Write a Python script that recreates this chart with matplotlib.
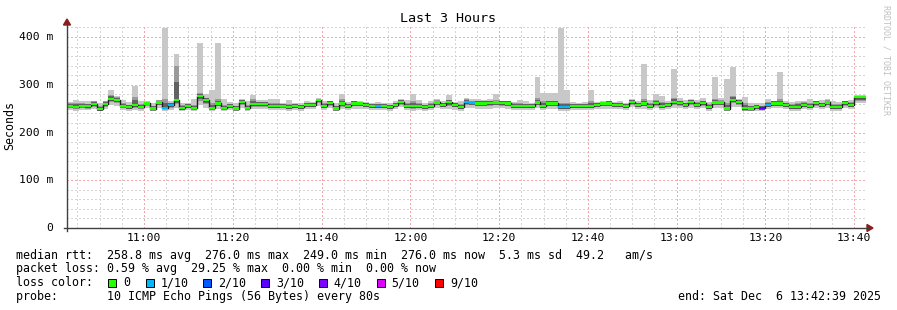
import numpy as np
import matplotlib
matplotlib.use("Agg")
import matplotlib.pyplot as plt
from matplotlib.patches import Rectangle, Polygon
from matplotlib.lines import Line2D

W, H = 897, 310

# ---------------- data (ms), one value per 80 s step, starting 10:42:39 ----------------
median = [256,254,256,255,260,249,260,270,268,256,253,258,254,261,250,263,252,258,268,251,256,252,276,268,252,261,252,
          256,250,264,252,259,259,259,256,256,256,254,256,254,258,258,268,256,262,250,261,256,261,261,258,256,256,256,
          253,258,264,256,256,256,253,256,263,258,264,258,254,264,263,261,261,262,263,262,261,256,256,256,256,263,256,
          261,261,254,254,256,256,256,256,258,261,261,258,258,256,264,258,261,256,262,256,258,264,262,258,264,258,262,
          254,263,263,250,268,264,251,250,254,251,258,261,261,258,254,254,258,256,262,258,263,254,254,262,258,274,274]
high = [264,268,266,266,262,262,264,289,276,268,264,297,266,265,262,268,418,266,365,262,262,270,388,280,290,388,270,
        264,262,270,266,278,268,268,270,270,262,268,262,262,266,264,272,266,266,262,280,264,266,266,264,262,264,262,
        262,266,270,268,280,268,262,266,270,266,278,264,266,272,270,270,268,270,280,266,266,264,268,266,262,317,282,
        282,283,418,290,264,262,264,288,264,266,266,264,266,262,270,266,343,268,280,276,266,333,272,268,270,268,272,
        264,317,272,312,337,270,275,262,262,262,270,266,327,266,264,266,266,270,266,268,270,266,264,266,268,278,278]
low = [248,246,248,247,250,244,249,258,256,248,246,248,246,251,244,252,246,248,252,245,248,244,258,252,246,250,246,
       248,244,252,246,250,250,250,248,248,248,246,248,246,250,250,256,248,252,244,250,248,250,250,250,248,248,248,
       246,250,254,248,246,248,246,248,252,250,250,248,246,252,252,250,250,250,252,252,250,248,248,248,248,252,248,
       250,250,246,246,248,248,248,248,250,250,250,250,250,248,254,250,250,248,252,248,250,252,252,250,252,250,252,
       246,252,252,244,254,254,244,244,246,246,250,252,252,250,246,246,250,248,252,250,252,246,246,252,250,262,262]
mid_high = [261,262,262,260,265,256,265,278,274,262,258,275,260,264,256,268,270,262,340,258,260,258,282,272,262,270,258,
            260,256,268,258,270,264,264,262,262,260,260,260,258,262,262,270,262,266,256,270,260,266,264,262,260,260,260,
            258,262,268,262,266,262,258,262,268,262,268,262,260,270,266,266,266,266,268,266,266,262,262,260,260,272,266,
            266,266,262,262,260,260,260,266,262,264,266,262,262,260,268,262,270,262,268,264,262,272,266,262,268,264,266,
            260,270,268,262,276,268,262,256,258,256,264,266,270,262,260,262,264,262,266,262,268,260,260,266,264,276,276]
mid_low = [252,250,252,250,254,246,254,264,262,252,249,252,250,256,246,257,249,252,260,248,251,248,266,260,248,255,248,
           251,246,258,248,254,254,254,251,251,252,249,251,249,253,253,262,251,256,246,254,251,255,255,253,251,251,251,
           249,253,258,251,250,251,249,251,257,253,256,253,249,258,257,255,255,256,257,256,255,251,251,251,251,257,251,
           255,255,249,249,251,251,251,251,253,255,255,253,253,251,258,253,255,251,256,251,253,258,256,253,258,253,256,
           249,257,257,246,262,258,246,246,249,248,253,255,255,253,249,249,253,251,256,253,257,249,249,256,253,266,266]
# loss level per step (tenths of pings lost)
loss = [0]*135
for i in (16, 17, 52, 67, 68, 83, 84, 118):
    loss[i] = 1
loss[117] = 3

loss_labels = ["0", "1/10", "2/10", "3/10", "4/10", "5/10", "9/10"]
loss_levels = [0, 1, 2, 3, 4, 5, 9]
loss_colors = ["#26ff00", "#00b8ff", "#0059ff", "#5e00ff", "#7e00ff", "#dd00ff", "#ff0000"]

x_ticks = [660, 680, 700, 720, 740, 760, 780, 800, 820]
x_tick_labels = ["11:00", "11:20", "11:40", "12:00", "12:20", "12:40", "13:00", "13:20", "13:40"]
y_ticks = [0, 100, 200, 300, 400]
y_tick_labels = ["0", "100 m", "200 m", "300 m", "400 m"]

start_min = 10 * 60 + 42 + 39 / 60.0
step_min = 80 / 60.0
end_min = start_min + 180

# ---------------- figure ----------------
fig = plt.figure(figsize=(W / 100, H / 100), dpi=100)
fig.patch.set_facecolor("white")

def fx(px):
    return px / W

def fy(py):
    return 1 - py / H

L, R, T, B = 67, 866, 25, 228
ax = fig.add_axes([fx(L), fy(B), fx(R) - fx(L), fy(T) - fy(B)])
ax.set_xlim(start_min, end_min)
ax.set_ylim(0, (B - T) / 0.4775)
for s in ax.spines.values():
    s.set_visible(False)
ax.set_xticks([])
ax.set_yticks([])

mono = "DejaVu Sans Mono"
grid_kw = dict(lw=1.0, ls=(0, (1, 2)), antialiased=False)

# grid
for v in np.arange(5 * np.ceil(start_min / 5), end_min, 5):
    if v % 20 == 0:
        continue
    ax.axvline(v, color="#d4d4d4", zorder=0, **grid_kw)
for v in range(20, 440, 20):
    if v % 100 == 0:
        continue
    ax.axhline(v, color="#d4d4d4", zorder=0, **grid_kw)
for v in x_ticks:
    ax.axvline(v, color="#f0a8a8", zorder=0.5, **grid_kw)
for v in y_ticks[1:]:
    ax.axhline(v, color="#f0a8a8", zorder=0.5, **grid_kw)

n = len(median)
edges = start_min + np.arange(n + 1) * step_min
def ext(a):
    a = np.asarray(a, float)
    return np.append(a, a[-1])

m = ext(median)
lo_, hi_ = ext(low), ext(high)
mlo, mhi = ext(mid_low), ext(mid_high)
ax.fill_between(edges, lo_, hi_, step="post", color="#c8c8c8", lw=0, zorder=1)
ax.fill_between(edges, mlo, mhi, step="post", color="#9a9a9a", lw=0, zorder=2)
ax.fill_between(edges, (mlo + m) / 2 - 1.5, (mhi + m) / 2 + 1.5, step="post", color="#626262", lw=0, zorder=3)
ax.step(edges, m, where="post", color="#202020", lw=1.0, zorder=4)
half = 2.4
for i in range(n):
    col = loss_colors[loss_levels.index(loss[i])]
    ax.fill_between([edges[i], edges[i + 1]], [median[i] - half] * 2, [median[i] + half] * 2,
                    color=col, lw=0, zorder=5)

# axes lines and arrows
axis_col = "#404040"
arrow_col = "#8c1c1c"
fig.add_artist(Line2D([fx(L), fx(L)], [fy(B + 3), fy(T)], color=axis_col, lw=1, transform=fig.transFigure))
fig.add_artist(Line2D([fx(L - 3), fx(R + 2)], [fy(B), fy(B)], color=axis_col, lw=1, transform=fig.transFigure))
fig.add_artist(Polygon([[fx(L - 3.5), fy(T)], [fx(L + 3.5), fy(T)], [fx(L), fy(T - 6)]],
                       closed=True, color=arrow_col, transform=fig.transFigure))
fig.add_artist(Polygon([[fx(R + 1), fy(B - 3.5)], [fx(R + 1), fy(B + 3.5)], [fx(R + 7), fy(B)]],
                       closed=True, color=arrow_col, transform=fig.transFigure))

# tick labels
for v, lab in zip(y_ticks, y_tick_labels):
    ax.text(-0.017, v, lab, transform=ax.get_yaxis_transform(), ha="right", va="center",
            family=mono, fontsize=8.2, color="#000000")
for v, lab in zip(x_ticks, x_tick_labels):
    ax.text(v, -0.05, lab, transform=ax.get_xaxis_transform(), ha="center", va="center",
            family=mono, fontsize=8.2, color="#000000")

fig.text(fx(10), fy(126), "Seconds", rotation=90, ha="center", va="center", family=mono, fontsize=8.4)
fig.text(fx(448), fy(19), "Last 3 Hours", ha="center", va="center", family=mono, fontsize=9.6)
fig.text(fx(886), fy(5), "RRDTOOL / TOBI OETIKER", rotation=270, ha="center", va="top",
         family=mono, fontsize=6.0, color="#c0c0c0")

fs = 8.4
fig.text(fx(16), fy(255), "median rtt:  258.8 ms avg  276.0 ms max  249.0 ms min  276.0 ms now  5.3 ms sd  49.2   am/s",
         ha="left", va="center", family=mono, fontsize=fs)
fig.text(fx(16), fy(268.5), "packet loss: 0.59 % avg  29.25 % max  0.00 % min  0.00 % now",
         ha="left", va="center", family=mono, fontsize=fs)
fig.text(fx(16), fy(282.5), "loss color:", ha="left", va="center", family=mono, fontsize=fs)
sq_x = [108, 146, 203, 261, 319, 377, 435]
tx_x = [123, 160.5, 218, 276, 333, 391.5, 450]
for sx, tx, lab, col in zip(sq_x, tx_x, loss_labels, loss_colors):
    fig.add_artist(Rectangle((fx(sx), fy(287)), fx(8), 8 / H, facecolor=col, edgecolor="black",
                             lw=0.7, transform=fig.transFigure))
    fig.text(fx(tx), fy(282.5), lab, ha="left", va="center", family=mono, fontsize=fs)
fig.text(fx(16), fy(296.5), "probe:       10 ICMP Echo Pings (56 Bytes) every 80s",
         ha="left", va="center", family=mono, fontsize=fs)
fig.text(fx(881), fy(296.5), "end: Sat Dec  6 13:42:39 2025", ha="right", va="center", family=mono, fontsize=fs)

fig.savefig("out.png", dpi=100, facecolor="white")
